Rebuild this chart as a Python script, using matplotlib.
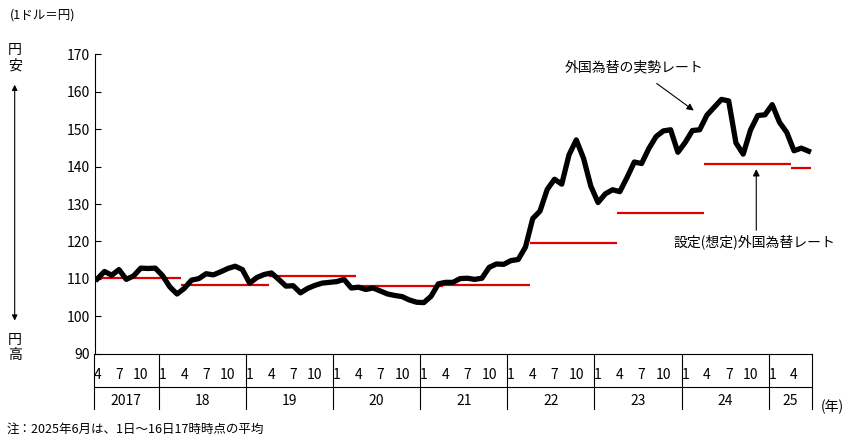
import numpy as np
import matplotlib
matplotlib.use("Agg")
import matplotlib.pyplot as plt

plt.rcParams['font.family'] = 'Noto Sans CJK JP'

# monthly actual rate, Apr 2017 - Jun 2025
rate_2017 = [110.0, 112.0, 111.0, 112.5, 109.9, 110.8, 112.9, 112.8, 112.9]
rate_2018 = [110.9, 107.9, 106.0, 107.5, 109.7, 110.1, 111.4, 111.1, 111.9, 112.8, 113.4, 112.5]
rate_2019 = [108.9, 110.4, 111.2, 111.6, 109.9, 108.1, 108.2, 106.3, 107.5, 108.3, 108.9, 109.1]
rate_2020 = [109.3, 109.9, 107.6, 107.8, 107.2, 107.6, 106.8, 106.0, 105.6, 105.3, 104.4, 103.8]
rate_2021 = [103.7, 105.4, 108.7, 109.1, 109.1, 110.1, 110.2, 109.9, 110.2, 113.1, 114.0, 113.9]
rate_2022 = [114.9, 115.2, 118.5, 126.1, 128.1, 133.9, 136.6, 135.3, 143.1, 147.1, 142.2, 134.8]
rate_2023 = [130.4, 132.7, 133.8, 133.3, 137.1, 141.2, 140.8, 144.8, 148.0, 149.5, 149.8, 143.8]
rate_2024 = [146.4, 149.6, 149.8, 153.7, 155.8, 157.9, 157.5, 146.3, 143.3, 149.7, 153.6, 153.8]
rate_2025 = [156.5, 151.8, 149.1, 144.2, 144.9, 144.1]
actual = rate_2017 + rate_2018 + rate_2019 + rate_2020 + rate_2021 + rate_2022 + rate_2023 + rate_2024 + rate_2025

# assumed rate per fiscal year (Apr-Mar)
fy_start = [0, 12, 24, 36, 48, 60, 72, 84, 96]
fy_rate = [110.3, 108.3, 110.9, 108.0, 108.3, 119.6, 127.7, 140.8, 139.7]

years = ['2017', '18', '19', '20', '21', '22', '23', '24', '25']
year_len = [9, 12, 12, 12, 12, 12, 12, 12, 6]

n = len(actual)
x = np.arange(n)
months = [(3 + i) % 12 + 1 for i in range(n)]

fig = plt.figure(figsize=(8.64, 4.43), dpi=100)
ax = fig.add_axes([0.110, 0.201, 0.830, 0.677])

for s, r in zip(fy_start, fy_rate):
    e = min(s + 11.6, n - 0.6)
    ax.plot([s - 0.4, e], [r, r], color='#e00000', lw=1.6, solid_capstyle='butt')
ax.plot(x, actual, color='black', lw=3.8, solid_joinstyle='round')

ax.set_xlim(-0.3, n - 0.5)
ax.set_ylim(90, 170)
ax.set_yticks(range(90, 171, 10))
ax.tick_params(axis='y', labelsize=10, length=4, direction='in')
ax.set_xticks([])
for sp in ['top', 'right']:
    ax.spines[sp].set_visible(False)

# month / year label grid below axis
tr = ax.get_xaxis_transform()
for i, m in enumerate(months):
    if m in (1, 4, 7, 10):
        ax.text(i, -0.07, str(m), transform=tr, ha='center', va='center', fontsize=10)
b = -0.5
for y, L in zip(years, year_len):
    ax.plot([b, b], [0, -0.185], transform=tr, color='black', lw=0.8, clip_on=False)
    ax.text(b + L / 2, -0.157, y, transform=tr, ha='center', va='center', fontsize=10)
    b += L
ax.plot([b, b], [0, -0.185], transform=tr, color='black', lw=0.8, clip_on=False)
ax.plot([-0.5, b], [-0.11, -0.11], transform=tr, color='black', lw=0.8, clip_on=False)
fig.text(0.963, 0.081, '(年)', ha='center', va='center', fontsize=10)

# annotations
ax.annotate('外国為替の実勢レート', xy=(82.5, 154.5), xytext=(74, 166.5),
            ha='center', va='center', fontsize=10,
            arrowprops=dict(arrowstyle='-|>', color='black', lw=0.8, shrinkA=8))
ax.annotate('', xy=(90.8, 139.3), xytext=(90.8, 123),
            arrowprops=dict(arrowstyle='-|>', color='black', lw=0.8, shrinkA=0, shrinkB=0))
ax.text(90.6, 120, '設定(想定)外国為替レート', ha='center', va='center', fontsize=10)

fig.text(0.012, 0.965, '(1ドル＝円)', ha='left', va='center', fontsize=9)
fig.text(0.017, 0.87, '円\n安', ha='center', va='center', fontsize=10, linespacing=1.1)
fig.text(0.017, 0.215, '円\n高', ha='center', va='center', fontsize=10, linespacing=1.1)
fig.add_artist(matplotlib.patches.FancyArrowPatch((0.017, 0.27), (0.017, 0.815),
               transform=fig.transFigure, arrowstyle='<|-|>', mutation_scale=8, lw=0.8, color='black'))
fig.text(0.008, 0.03, '注：2025年6月は、1日～16日17時時点の平均', ha='left', va='center', fontsize=9)

fig.savefig('out.png', dpi=100)
